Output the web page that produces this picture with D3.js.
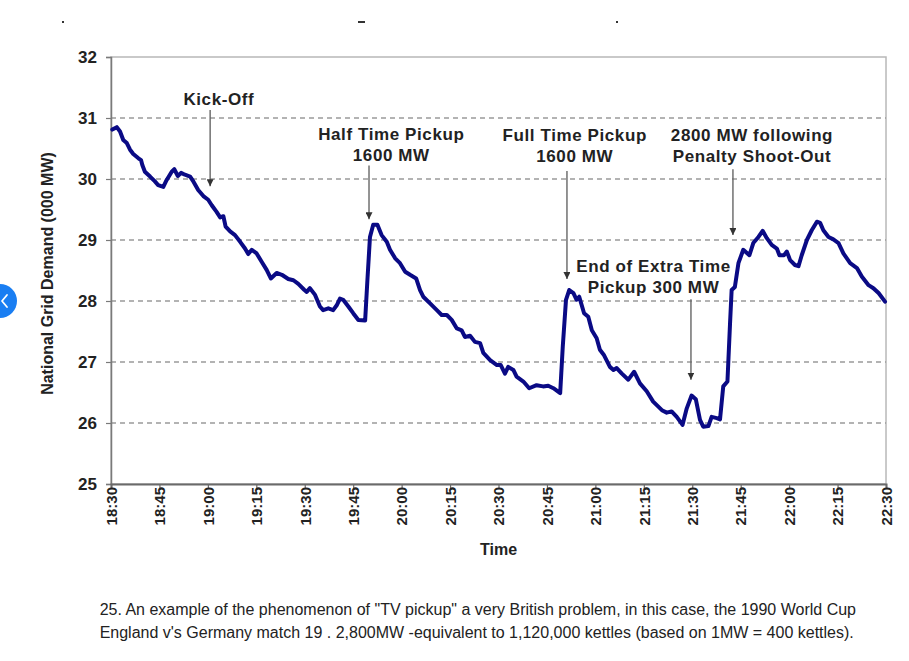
<!DOCTYPE html>
<html>
<head>
<meta charset="utf-8">
<script src="https://cdn.jsdelivr.net/npm/d3@7"></script>
<style>
  html, body { margin: 0; padding: 0; background: #fff; }
  svg { display: block; font-family: "Liberation Sans", Arial, sans-serif; }
</style>
</head>
<body>
<svg id="chart" width="909" height="661"></svg>
<script>
// ---- data (minutes after 18:30, demand in thousand MW) ----
const minutes = [
  0.4,1.8,2.8,3.8,4.9,5.9,6.9,8.5,9.3,9.7,
  10.5,12.1,13.6,14.6,16.2,17.2,18.8,19.6,20.7,21.7,
  22.9,24.5,25.5,27.0,28.6,30.1,31.2,32.7,33.8,34.8,
  35.5,36.9,38.4,40.0,41.5,42.5,43.6,45.1,46.7,48.2,
  49.5,51.3,52.9,54.9,56.5,58.0,59.9,60.6,61.6,63.2,
  64.7,65.7,67.3,68.8,69.9,70.9,71.9,73.5,75.0,76.6,
  78.7,79.4,80.2,81.2,82.5,83.8,85.4,86.4,88.0,89.5,
  91.1,92.6,94.5,95.7,96.7,98.8,100.9,102.4,104.0,105.5,
  107.1,108.6,109.6,111.2,112.7,114.3,115.3,117.4,119.5,120.7,
  122.0,123.0,124.6,125.6,127.7,129.5,131.8,133.8,135.4,137.0,
  139.1,139.9,140.9,141.9,143.2,144.2,145.0,146.5,147.8,148.9,
  150.4,151.4,152.7,154.5,155.6,156.6,158.2,160.2,162.0,163.8,
  165.9,167.9,170.6,172.1,173.6,175.2,177.0,178.3,179.8,181.1,
  182.4,183.4,185.0,186.0,187.6,188.6,189.6,190.9,191.7,192.2,
  193.2,194.3,195.8,197.7,198.9,200.5,201.8,203.1,204.6,206.2,
  207.0,208.4,209.3,210.3,211.8,212.9,213.9,215.5,217.0,218.6,
  219.6,220.6,222.2,223.7,225.3,226.8,228.9,231.0,232.5,234.6,
  236.1,237.7,239.7
];
const demand = [
  30.81,30.85,30.78,30.64,30.59,30.48,30.41,30.34,30.31,30.23,
  30.12,30.04,29.96,29.90,29.87,29.98,30.12,30.16,30.05,30.10,
  30.07,30.04,29.96,29.82,29.72,29.66,29.57,29.46,29.37,29.39,
  29.22,29.14,29.08,28.97,28.86,28.77,28.84,28.78,28.64,28.51,
  28.37,28.46,28.43,28.36,28.34,28.28,28.18,28.15,28.21,28.10,
  27.91,27.85,27.88,27.85,27.93,28.04,28.02,27.91,27.80,27.69,
  27.68,28.34,29.05,29.25,29.25,29.08,28.97,28.84,28.70,28.62,
  28.48,28.43,28.37,28.18,28.07,27.96,27.85,27.77,27.77,27.69,
  27.55,27.52,27.41,27.43,27.33,27.31,27.15,27.03,26.95,26.95,
  26.81,26.92,26.87,26.76,26.68,26.57,26.62,26.60,26.61,26.57,
  26.49,27.25,28.02,28.18,28.13,28.02,28.07,27.80,27.74,27.52,
  27.39,27.20,27.11,26.92,26.87,26.90,26.81,26.71,26.84,26.65,
  26.52,26.35,26.21,26.17,26.19,26.10,25.97,26.24,26.45,26.39,
  26.05,25.94,25.95,26.10,26.08,26.06,26.60,26.68,27.63,28.18,
  28.23,28.62,28.84,28.75,28.95,29.05,29.15,29.03,28.92,28.86,
  28.75,28.75,28.81,28.67,28.59,28.57,28.75,29.00,29.16,29.30,
  29.28,29.16,29.05,29.01,28.95,28.78,28.62,28.54,28.40,28.26,
  28.21,28.13,27.99
];
const timeTicks = [0,15,30,45,60,75,90,105,120,135,150,165,180,195,210,225,240];
const timeTickLabels = ["18:30","18:45","19:00","19:15","19:30","19:45","20:00","20:15","20:30","20:45","21:00","21:15","21:30","21:45","22:00","22:15","22:30"];
const demandTicks = [25,26,27,28,29,30,31,32];

// annotations: text lines, text centre time & baseline value; arrow time, top & tip values
const noteLines = [
  ["Kick-Off"],
  ["Half Time Pickup","1600 MW"],
  ["Full Time Pickup","1600 MW"],
  ["2800 MW following","Penalty Shoot-Out"],
  ["End of Extra Time","Pickup 300 MW"]
];
const noteTextTime  = [33.4, 86.8, 143.6, 198.5, 168.0];
const noteTextValue = [31.21, 30.64, 30.63, 30.63, 28.48];
const arrowTime     = [30.7, 79.9, 141.2, 192.6, 179.6];
const arrowTopValue = [31.13, 30.22, 30.13, 30.16, 28.03];
const arrowTipValue = [29.88, 29.34, 28.36, 29.08, 26.71];

const caption = [
  "25. An example of the phenomenon of \"TV pickup\" a very British problem, in this case, the 1990 World Cup",
  "England v's Germany match 19 . 2,800MW -equivalent to 1,120,000 kettles (based on 1MW = 400 kettles)."
];

// ---- layout ----
const svg = d3.select("#chart");
const L = 111, R = 886, T = 57, B = 484;
const x = d3.scaleLinear().domain([0, 240]).range([L, R]);
const y = d3.scaleLinear().domain([25, 32]).range([B, T]);

// remnants of cut-off title at very top
svg.append("g").selectAll("rect")
  .data([[62,2],[358,7],[616,2]])
  .join("rect")
  .attr("x", d => d[0]).attr("y", 21).attr("width", d => d[1]).attr("height", 2)
  .attr("fill", "#333");

// plot frame (top/right light)
svg.append("rect")
  .attr("x", L).attr("y", T).attr("width", R - L).attr("height", B - T)
  .attr("fill", "none").attr("stroke", "#b8b8b8").attr("stroke-width", 1.5);

// dashed gridlines
svg.append("g").selectAll("line")
  .data(demandTicks.filter(v => v > 25 && v < 32))
  .join("line")
  .attr("x1", L).attr("x2", R)
  .attr("y1", d => y(d)).attr("y2", d => y(d))
  .attr("stroke", "#9a9a9a").attr("stroke-width", 1.3)
  .attr("stroke-dasharray", "5,4");

// y axis
const yAxis = svg.append("g")
  .attr("transform", `translate(${L},0)`)
  .call(d3.axisLeft(y).tickValues(demandTicks).tickSize(5).tickPadding(9).tickFormat(d3.format("d")));
yAxis.select(".domain").attr("stroke", "#7a7a7a").attr("stroke-width", 1.5);
yAxis.selectAll(".tick line").attr("stroke", "#7a7a7a").attr("stroke-width", 1.2);
yAxis.selectAll(".tick text")
  .attr("font-size", 17).attr("font-weight", "bold").attr("fill", "#222")
  .attr("font-family", "\"Liberation Sans\", Arial, sans-serif");

// x axis
const xAxis = svg.append("g")
  .attr("transform", `translate(0,${B})`)
  .call(d3.axisBottom(x).tickValues(timeTicks).tickSize(5)
    .tickFormat((d, i) => timeTickLabels[i]));
xAxis.select(".domain").attr("stroke", "#6a6a6a").attr("stroke-width", 2);
xAxis.selectAll(".tick line").attr("stroke", "#6a6a6a").attr("stroke-width", 1.2);
xAxis.selectAll(".tick text")
  .attr("font-size", 15).attr("font-weight", "bold").attr("fill", "#222")
  .attr("font-family", "\"Liberation Sans\", Arial, sans-serif")
  .attr("text-anchor", "end")
  .attr("transform", "translate(0,3) rotate(-90)")
  .attr("x", 0).attr("y", 0).attr("dx", 0).attr("dy", "0.35em");

// axis titles
svg.append("text")
  .attr("transform", `translate(53,${(T + B) / 2 + 3}) rotate(-90)`)
  .attr("text-anchor", "middle")
  .attr("font-size", 16).attr("font-weight", "bold").attr("fill", "#222")
  .text("National Grid Demand (000 MW)");
svg.append("text")
  .attr("x", (L + R) / 2).attr("y", 555)
  .attr("text-anchor", "middle")
  .attr("font-size", 16).attr("font-weight", "bold").attr("fill", "#222")
  .text("Time");

// data line
const pts = minutes.map((m, i) => [m, demand[i]]);
svg.append("path")
  .datum(pts)
  .attr("fill", "none")
  .attr("stroke", "#0a0a85")
  .attr("stroke-width", 4)
  .attr("stroke-linejoin", "round")
  .attr("stroke-linecap", "round")
  .attr("d", d3.line().x(d => x(d[0])).y(d => y(d[1])));

// arrowhead marker
svg.append("defs").append("marker")
  .attr("id", "arrow")
  .attr("viewBox", "0 0 10 10")
  .attr("refX", 10).attr("refY", 5)
  .attr("markerWidth", 7).attr("markerHeight", 7)
  .attr("markerUnits", "userSpaceOnUse")
  .attr("orient", "auto")
  .append("path").attr("d", "M0,0 L10,5 L0,10 Z").attr("fill", "#333");

// annotations
const notes = noteLines.map((lines, i) => ({
  lines, tx: noteTextTime[i], ty: noteTextValue[i],
  ax: arrowTime[i], a1: arrowTopValue[i], a2: arrowTipValue[i]
}));
const ng = svg.append("g");
ng.selectAll("line")
  .data(notes).join("line")
  .attr("x1", d => x(d.ax)).attr("x2", d => x(d.ax))
  .attr("y1", d => y(d.a1)).attr("y2", d => y(d.a2))
  .attr("stroke", "#666").attr("stroke-width", 1.4)
  .attr("marker-end", "url(#arrow)");
ng.selectAll("text")
  .data(notes).join("text")
  .attr("x", d => x(d.tx)).attr("y", d => y(d.ty))
  .attr("text-anchor", "middle")
  .attr("font-size", 17).attr("font-weight", "bold").attr("fill", "#222")
  .attr("letter-spacing", "0.6px")
  .selectAll("tspan")
  .data(d => d.lines.map((t, j) => ({ t, j, x: x(d.tx) })))
  .join("tspan")
  .attr("x", d => d.x)
  .attr("dy", d => d.j === 0 ? 0 : 21)
  .text(d => d.t);

// caption
const cap = svg.append("g");
const capText = cap.selectAll("text")
  .data(caption).join("text")
  .attr("y", (d, i) => 615 + i * 23)
  .attr("font-size", 16).attr("fill", "#222")
  .text(d => d);
const w0 = capText.node().getComputedTextLength();
capText.attr("x", 856 - w0);

// side UI button
svg.append("circle").attr("cx", 0).attr("cy", 301).attr("r", 17).attr("fill", "#1a7ef2");
svg.append("path").attr("d", "M7,295 L2,301 L7,307")
  .attr("fill", "none").attr("stroke", "#fff").attr("stroke-width", 1.8)
  .attr("stroke-linecap", "round").attr("stroke-linejoin", "round");
</script>
</body>
</html>
